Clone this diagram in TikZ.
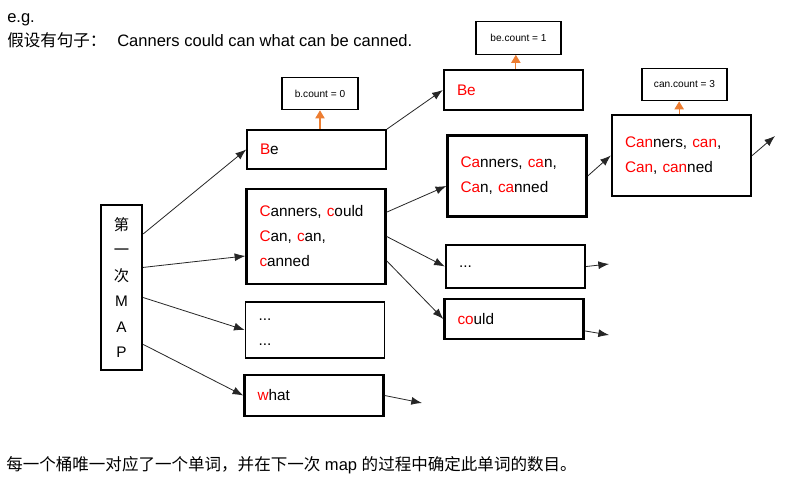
\documentclass[tikz,border=0pt]{standalone}
\usepackage{fontspec}
\setmainfont{Liberation Sans}
\newfontfamily\cjk{Noto Sans CJK SC}
\usetikzlibrary{arrows.meta,calc}
\definecolor{hit}{RGB}{255,0,0}
\definecolor{countline}{RGB}{237,125,49}
\newcommand{\hit}[1]{\textcolor{hit}{#1}}

\begin{document}
\begin{tikzpicture}[x=0.75pt,y=-0.75pt,
  bucket/.style={draw,line width=1.2pt,minimum width=104.25pt,inner xsep=9.75pt,
    inner ysep=0pt,text width=84.75pt,align=left,font=\fontsize{11.5pt}{18.75pt}\selectfont},
  full/.style={line width=1.8pt},
  boxh/.style={minimum height=#1*0.75pt},
  counter/.style={draw,line width=0.8pt,minimum height=24.5pt,inner sep=0pt,font=\fontsize{7.6pt}{8pt}\selectfont},
  link/.style={-{Latex[length=8pt,width=6pt]},line width=0.6pt,black!85},
  countlink/.style={-{Triangle[length=6pt,width=7pt]},line width=0.8pt,countline}]
  \useasboundingbox[fill=white] (0,0) rectangle (786,482);
  % heading
  \node[anchor=base west,inner sep=0pt,font=\fontsize{12.4pt}{14pt}\selectfont] (eg) at (7,22.5) {e.g.};
  \node[anchor=base west,inner sep=0pt,font=\fontsize{12.4pt}{14pt}\selectfont] (prompt) at (7,46.5) {\cjk 假设有句子：};
  \node[anchor=base west,inner sep=0pt,font=\fontsize{12.4pt}{14pt}\selectfont] (sentence) at (117,46.5) {Canners could can what can be canned.};
  % first map
  \node[draw,full,minimum width=30.75pt,minimum height=123.75pt,inner sep=0pt,align=center,
    font=\fontsize{11.5pt}{19.1pt}\selectfont] (map) at (121.5,287.5)
    {{\cjk 第}\\{\cjk 一}\\{\cjk 次}\\M\\A\\P};
  % first buckets
  \node[bucket,boxh=39] (be1) at (316.5,149.5) {\hit{B}e};
  \node[bucket,full,boxh=95] (can1) at (316,236.5) {\hit{C}anners, \hit{c}ould\\\hit{C}an, \hit{c}an,\\\hit{c}anned};
  \node[bucket,boxh=56] (dots1) at (315,330) {\\[-14pt]...\\...};
  \node[bucket,full,boxh=41] (what) at (314,395.5) {\hit{w}hat};
  \node[counter,minimum width=57pt] (bcnt) at (320,93.5) {b.count = 0};
  % second buckets
  \node[bucket,full,boxh=40] (be2) at (513.5,90) {\hit{Be}};
  \node[bucket,full,boxh=81] (can2) at (517,176) {\hit{Ca}nners, \hit{ca}n,\\\hit{Ca}n, \hit{ca}nned\\[-4pt]};
  \node[bucket,full,boxh=43] (dots2) at (515.5,266.5) {...\\[-6pt]};
  \node[bucket,full,boxh=40] (could) at (514,319) {\hit{co}uld};
  \node[counter,minimum width=63.75pt] (becnt) at (518.5,38) {be.count = 1};
  % third bucket
  \node[bucket,full,boxh=81] (can3) at (681.5,155.5) {\hit{Can}ners, \hit{can},\\\hit{Can}, \hit{can}ned\\[-4pt]};
  \node[counter,minimum width=63.75pt] (cancnt) at (684.5,84.5) {can.count = 3};
  % free ends
  \coordinate (whatout) at (422,403);
  \coordinate (dotsout) at (609,264);
  \coordinate (couldout) at (609,335);
  \coordinate (canout) at (775,136);
  % connectors
  \draw[link] ($(map.north east)!0.18!(map.south east)$) -- (be1.west);
  \draw[link] ($(map.north east)!0.38!(map.south east)$) -- ($(can1.north west)!0.7!(can1.south west)$);
  \draw[link] ($(map.north east)!0.56!(map.south east)$) -- (dots1.west);
  \draw[link] ($(map.north east)!0.84!(map.south east)$) -- (what.west);
  \draw[link] (be1.north east) -- (be2.west);
  \draw[link] ($(can1.north east)!0.25!(can1.south east)$) -- ($(can2.north west)!0.62!(can2.south west)$);
  \draw[link] (can1.east) -- (dots2.west);
  \draw[link] ($(can1.north east)!0.75!(can1.south east)$) -- (could.west);
  \draw[link] (can2.east) -- (can3.west);
  \draw[link] (what.east) -- (whatout);
  \draw[link] (dots2.east) -- (dotsout);
  \draw[link] ($(could.north east)!0.78!(could.south east)$) -- (couldout);
  \draw[link] (can3.east) -- (canout);
  \draw[countlink] (bcnt.south |- be1.north) -- (bcnt.south);
  \draw[countlink] ([xshift=-2pt]becnt.south |- be2.north) -- ([xshift=-2pt]becnt.south);
  \draw[countlink] ([xshift=-4pt]cancnt.south |- can3.north) -- ([xshift=-4pt]cancnt.south);
  % note
  \node[anchor=west,inner sep=0pt,font=\fontsize{12.4pt}{14pt}\selectfont] (note) at (6,465)
    {{\cjk 每一个桶唯一对应了一个单词，并在下一次} map {\cjk 的过程中确定此单词的数目。}};
\end{tikzpicture}
\end{document}
